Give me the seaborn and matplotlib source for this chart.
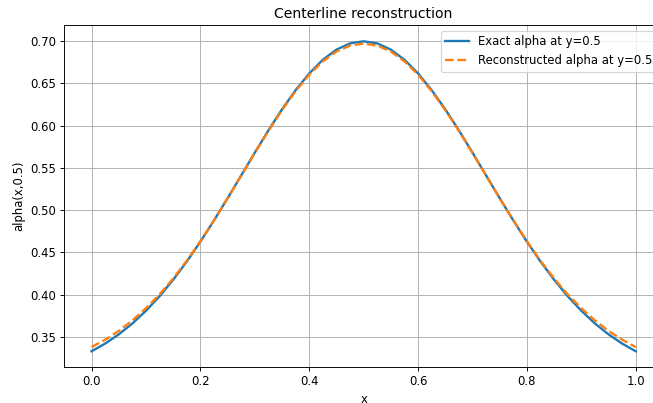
import numpy as np
import pandas as pd
import matplotlib
matplotlib.use("Agg")
import matplotlib.pyplot as plt
import seaborn as sns

# valores (x de 0 a 1, passo 0.025)
x_vals = [round(i * 0.025, 3) for i in range(41)]
exact_alpha = [0.3328, 0.3419, 0.3528, 0.3657, 0.3808, 0.3980, 0.4175, 0.4391, 0.4626, 0.4878,
               0.5141, 0.5411, 0.5681, 0.5945, 0.6194, 0.6421, 0.6619, 0.6781, 0.6901, 0.6975,
               0.7000,
               0.6975, 0.6901, 0.6781, 0.6619, 0.6421, 0.6194, 0.5945, 0.5681, 0.5411, 0.5141,
               0.4878, 0.4626, 0.4391, 0.4175, 0.3980, 0.3808, 0.3657, 0.3528, 0.3419, 0.3328]
recon_alpha = [0.3378, 0.3465, 0.3569, 0.3693, 0.3838, 0.4002, 0.4190, 0.4401, 0.4631, 0.4880,
               0.5141, 0.5408, 0.5676, 0.5937, 0.6184, 0.6409, 0.6604, 0.6762, 0.6878, 0.6949,
               0.6973,
               0.6949, 0.6878, 0.6762, 0.6604, 0.6409, 0.6184, 0.5937, 0.5676, 0.5408, 0.5141,
               0.4880, 0.4631, 0.4401, 0.4190, 0.4002, 0.3838, 0.3693, 0.3569, 0.3465, 0.3378]

df = pd.DataFrame({"x": x_vals, "exact": exact_alpha, "recon": recon_alpha})

dpi = 84
fig = plt.figure(figsize=(653 / dpi, 403 / dpi), dpi=dpi)
# o gráfico original foi cortado à direita, então o eixo passa da borda
ax = fig.add_axes([0.0985, 0.090, 1.0153 - 0.0985, 0.938 - 0.090])

sns.lineplot(data=df, x="x", y="exact", ax=ax, color="C0", linewidth=2,
             label="Exact alpha at y=0.5")
sns.lineplot(data=df, x="x", y="recon", ax=ax, color="C1", linewidth=2, linestyle="--",
             label="Reconstructed alpha at y=0.5")

ax.set_xlim(-0.05, 1.05)
ax.set_ylim(0.3145, 0.7193)
ax.set_xticks([0.0, 0.2, 0.4, 0.6, 0.8, 1.0])
ax.set_title("Centerline reconstruction", fontsize=12)
ax.set_xlabel("x")
ax.set_ylabel("alpha(x,0.5)")
ax.grid(True)
ax.legend(loc="upper right")

fig.savefig("out.png", dpi=dpi)
